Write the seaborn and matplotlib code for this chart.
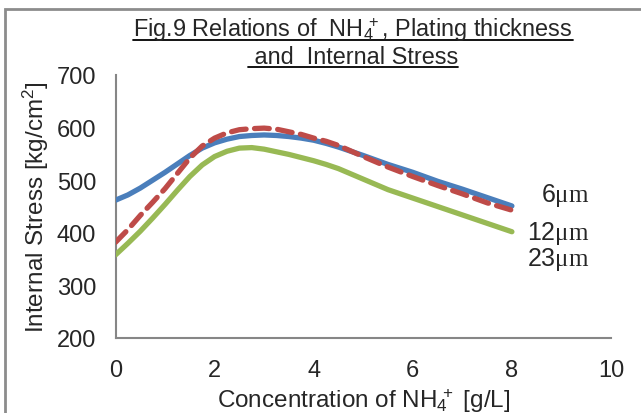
import matplotlib
matplotlib.use("Agg")
import matplotlib.pyplot as plt
import seaborn as sns
import pandas as pd
from matplotlib.patches import Rectangle
from matplotlib.lines import Line2D

# NH4+ concentration [g/L]
conc = [0, 0.25, 0.5, 0.75, 1, 1.25, 1.5, 1.75, 2, 2.25, 2.5, 2.75, 3, 3.25, 3.5, 3.75,
        4, 4.25, 4.5, 5, 5.5, 6, 6.5, 7, 7.5, 8]
stress_6um = [462, 472, 485, 500, 515, 531, 547, 561, 571, 578, 583, 585, 586, 585, 583, 580,
              576, 570, 563, 547, 530, 515, 498, 483, 467, 451]
stress_12um = [382, 406, 433, 458, 484, 513, 542, 565, 580, 590, 596, 598, 599, 597, 592, 587,
               580, 574, 566, 545, 525, 507, 490, 474, 457, 443]
stress_23um = [358, 380, 403, 428, 454, 481, 507, 529, 545, 555, 561, 562, 559, 554, 549, 543,
               537, 530, 522, 502, 482, 466, 450, 434, 418, 402]
series_names = ["6μm", "12μm", "23μm"]
label_y = [472, 400, 352]
x_ticks = [0, 2, 4, 6, 8, 10]
y_ticks = [200, 300, 400, 500, 600, 700]

sns.set_style("white")
plt.rcParams['font.family'] = ['Liberation Sans', 'DejaVu Sans']
plt.rcParams['mathtext.fontset'] = 'custom'
plt.rcParams['mathtext.rm'] = 'Liberation Serif'
plt.rcParams['mathtext.default'] = 'regular'

df = pd.DataFrame({
    "conc": conc * 3,
    "stress": stress_6um + stress_12um + stress_23um,
    "thick": [series_names[0]] * len(conc) + [series_names[1]] * len(conc) + [series_names[2]] * len(conc),
})

W, H = 641, 414
fig = plt.figure(figsize=(W / 100, H / 100), dpi=100)
ax = fig.add_axes([115.5 / W, (H - 339) / H, (611 - 115.5) / W, (339 - 76) / H])

palette = {"6μm": "#4a7ebb", "12μm": "#be4b48", "23μm": "#98b954"}
sns.lineplot(data=df, x="conc", y="stress", hue="thick", style="thick",
             palette=palette, dashes={"6μm": "", "12μm": (2.8, 1.6), "23μm": ""},
             linewidth=3.8, legend=False, ax=ax, zorder=3)
for l in ax.lines:
    l.set_solid_capstyle("round")
    l.set_dash_capstyle("round")
    l.set_solid_joinstyle("round")

ax.set_xlim(0, 10)
ax.set_ylim(200, 700)
ax.set_xticks(x_ticks)
ax.set_yticks(y_ticks)
ax.tick_params(direction="in", length=5, width=1.2, color="#868686", labelsize=17)
ax.tick_params(axis="y", pad=14)
ax.tick_params(axis="x", pad=15)
for s in ["top", "right"]:
    ax.spines[s].set_visible(False)
for s in ["left", "bottom"]:
    ax.spines[s].set_color("#868686")
    ax.spines[s].set_linewidth(1.5)
nh4 = r"NH$_4$$^{\!\!\!+}$"
ax.set_xlabel("Concentration of " + nh4 + " [g/L]", fontsize=17.5, labelpad=4)
ax.set_ylabel("Internal Stress [kg/cm$^2$]", fontsize=17.5, labelpad=4)

# series labels at the right end
for name, yv in zip(series_names, label_y):
    num = name.replace("μm", "")
    ax.text(9.57, yv, num + r"$\mathrm{μm}$", fontsize=18, ha="right", va="center")

# outer chart frame
fig.patches.append(Rectangle((5 / W, -0.1), 1.2, (H - 10) / H + 0.1, fill=False,
                             edgecolor="#8c8c8c", linewidth=2, transform=fig.transFigure))

# underlined two-line title
t1 = fig.text(353 / W, (H - 37) / H, "Fig.9 Relations of  " + nh4 + ", Plating thickness",
              fontsize=16.9, ha="center", va="baseline")
t2 = fig.text(353 / W, (H - 64) / H, " and  Internal Stress", fontsize=16.9, ha="center", va="baseline")
fig.canvas.draw()
r = fig.canvas.get_renderer()
for t, base in [(t1, 37), (t2, 64)]:
    bb = t.get_window_extent(renderer=r)
    yl = (H - base - 3.5) / H
    fig.add_artist(Line2D([bb.x0 / W, bb.x1 / W], [yl, yl], color="black", linewidth=1.3,
                          transform=fig.transFigure))

fig.savefig("out.png", dpi=100)
